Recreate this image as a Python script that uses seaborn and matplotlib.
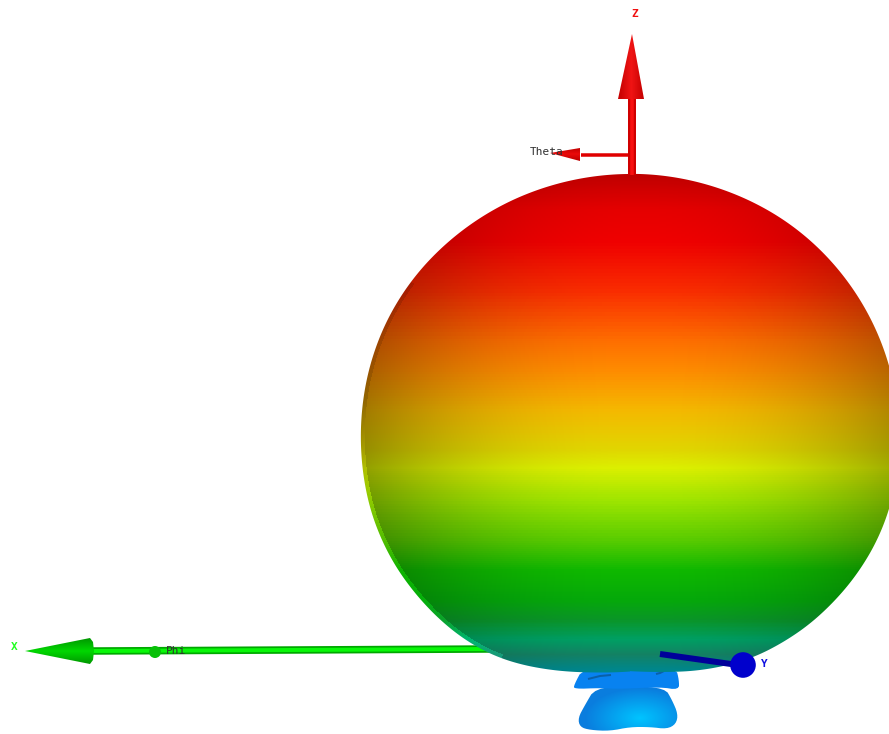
#!/usr/bin/env python3
# -*- coding: utf-8 -*-
"""3D radiation pattern view, drawn in pixel coordinates of the original"""

import numpy as np
import matplotlib
matplotlib.use("Agg")
import matplotlib.pyplot as plt
from matplotlib.patches import Polygon
import pandas as pd
import seaborn as sns

# main lobe, radius per angle from +Z (degrees)
left_angle = [0, 7, 14, 22, 30, 38, 48, 59, 72, 90, 108, 113, 120, 126, 133, 141, 147, 154, 163, 180]
left_radius = [261, 261, 261, 262, 263, 264, 266, 268, 269, 269, 270, 270, 268, 267, 265, 263, 261, 255, 245, 235]
right_angle = [0, 21, 33, 42, 52, 63, 72, 90, 107, 115, 121, 130, 137, 144, 150, 157, 169, 180]
right_radius = [261, 262, 264, 265, 266, 267, 268, 269, 270, 268, 266, 263, 260, 258, 254, 251, 240, 235]

# colour of the pattern by picture row, along the middle of the lobe
band_rows = [174, 190, 210, 240, 290, 340, 370, 410, 450, 468, 500, 540, 570, 600, 620, 640, 655, 670]
band_colours = ["#be0000", "#d20000", "#e60000", "#f00000", "#fa2d00", "#ff6e00",
                "#ff8c00", "#f5b900", "#e1d700", "#dcf000", "#a0e600", "#5acd00",
                "#0fb900", "#05aa0a", "#0a9628", "#00a064", "#148264", "#00878c"]

# side lobes under the main lobe
upper_lobe_x = [583, 574, 574, 600, 620, 660, 679, 679, 676, 630]
upper_lobe_y = [668, 685, 689, 688, 689, 687, 690, 680, 668, 666]
lower_lobe_x = [595, 585, 578, 580, 590, 610, 630, 650, 667, 676, 678, 672, 665, 630]
lower_lobe_y = [688, 705, 718, 727, 730, 731, 727, 727, 729, 724, 714, 700, 688, 686]
streak_x = [588, 600, 611]
streak_y = [679, 676, 675]
streak2_x = [656, 660, 664]
streak2_y = [674, 673, 671]

# axes
x_shaft_x = [92, 490]
x_shaft_y = [651, 649]
x_head_x = [25, 90, 93, 94, 93, 90]
x_head_y = [651, 638, 642, 651, 660, 664]
z_shaft_x = [631.5, 631.5]
z_shaft_y = [98, 175]
z_head_x = [632, 618, 644]
z_head_y = [34, 99, 99]
theta_shaft_x = [581, 628]
theta_shaft_y = [155, 155]
theta_head_x = [550, 580, 580]
theta_head_y = [153, 148, 161]
y_shaft_x = [660, 738]
y_shaft_y = [654, 665]
ball_x = [155, 743]
ball_y = [652, 665]
ball_size = [75, 340]
ball_colour = ["#08c008", "#0000cc"]

labels = ["X", "Phi", "Z", "Theta", "Y"]
label_x = [14, 166, 635, 530, 764]
label_y = [647, 651, 14, 152, 664]
label_colours = ["#20ff20", "#303030", "#f01010", "#303030", "#1010e0"]

WIDTH, HEIGHT = 889, 734

sns.set_theme(style="white")
fig = plt.figure(figsize=(WIDTH / 100, HEIGHT / 100), dpi=100)
ax = fig.add_axes([0, 0, 1, 1])
order = [1]


def ax_order():
    order[0] += 1
    return order[0]


def smooth(xs, ys, n=2):
    # corner cutting, closed shape
    p = np.column_stack([xs, ys]).astype(float)
    for _ in range(n):
        q = np.roll(p, -1, axis=0)
        p = np.column_stack([0.75 * p + 0.25 * q, 0.25 * p + 0.75 * q]).reshape(-1, 2)
    return p


def paint(rgb, x0, x1, y0, y1, outline):
    # rgb image clipped to the shape
    im = ax.imshow(np.clip(rgb, 0, 1), extent=(x0, x1, y1, y0), interpolation="bilinear",
                   aspect="auto", zorder=ax_order())
    clip = Polygon(outline, closed=True, transform=ax.transData, fc="none", ec="none")
    ax.add_patch(clip)
    im.set_clip_path(clip)


def line(xs, ys, colour, px):
    sns.lineplot(data=pd.DataFrame({"x": xs, "y": ys}), x="x", y="y", sort=False,
                 estimator=None, color=colour, linewidth=px * 0.72, ax=ax,
                 solid_capstyle="butt", zorder=ax_order())


def grid(x0, x1, y0, y1):
    return np.meshgrid(np.arange(x0, x1) + 0.5, np.arange(y0, y1) + 0.5)


def across(xs, ys, dark, bright, horizontal=True):
    # head shading: bright along the middle, dark on the sides
    x0, x1, y0, y1 = int(min(xs)), int(max(xs)) + 1, int(min(ys)), int(max(ys)) + 1
    gx, gy = grid(x0, x1, y0, y1)
    if horizontal:
        t = np.abs(gy - np.mean(ys)) / (max(ys) - min(ys)) * 2
    else:
        t = np.abs(gx - np.mean(xs)) / (max(xs) - min(xs)) * 2
    t = np.clip(t, 0, 1)[..., None]
    rgb = np.array(bright) * (1 - t) + np.array(dark) * t
    paint(rgb / 255, x0, x1, y0, y1, np.column_stack([xs, ys]))


# side lobes
gx, gy = grid(560, 690, 660, 734)
d = np.sqrt(((gx - 640) / 55) ** 2 + ((gy - 718) / 30) ** 2)
t = np.clip(d, 0, 1)[..., None]
lobe_rgb = (np.array([0, 196, 255]) * (1 - t) + np.array([10, 125, 222]) * t) / 255
paint(lobe_rgb, 560, 690, 660, 734, smooth(lower_lobe_x, lower_lobe_y))
upper_rgb = np.ones_like(lobe_rgb) * (np.array([8, 130, 240]) / 255)
paint(upper_rgb, 560, 690, 660, 734, smooth(upper_lobe_x, upper_lobe_y))
line(streak_x, streak_y, "#0a60a8", 2)
line(streak2_x, streak2_y, "#0a60a8", 2)

# X axis goes behind the main lobe
line(x_shaft_x, x_shaft_y, "#00a800", 7.5)
line(x_shaft_x, x_shaft_y, "#08f808", 4)
across(x_head_x, x_head_y, (0, 150, 0), (0, 215, 0))

# main lobe
cx, cy = 630, 435
deg = np.arange(0, 180.5, 0.5)
ang = np.radians(deg)
rl = np.interp(deg, left_angle, left_radius)
rr = np.interp(deg, right_angle, right_radius)
kernel = np.ones(41) / 41
rl = np.convolve(np.pad(rl, 20, mode="edge"), kernel, mode="valid")
rr = np.convolve(np.pad(rr, 20, mode="edge"), kernel, mode="valid")
outline = np.vstack([
    np.column_stack([cx - rl * np.sin(ang), cy - rl * np.cos(ang)]),
    np.column_stack([cx + rr * np.sin(ang), cy - rr * np.cos(ang)])[::-1],
])
cmap = sns.blend_palette(band_colours, n_colors=len(band_colours), as_cmap=True)
gx, gy = grid(350, WIDTH, 165, 680)
# stops are not evenly spaced in rows, so each row goes between its two stops
base = np.interp(gy, band_rows, np.linspace(0, 1, len(band_rows)))
rgb = np.array(cmap(base))[..., :3]
# darker towards the rim, middle column keeps the band colour
dist = np.sqrt(((gx - 640) / 270) ** 2 + ((gy - 450) / 620) ** 2)
mid = np.abs(gy - 450) / 620
shade = (1 - 0.32 * dist ** 2.2) / (1 - 0.32 * mid ** 2.2)
# thin rim on the left side of the lobe, dark above the middle and light below
pix_ang = np.degrees(np.arctan2(cx - gx, cy - gy))
pix_r = np.hypot(gx - cx, gy - cy)
rim = (pix_ang > 55) & (pix_ang < 150) & (pix_r > np.interp(pix_ang, deg, rl) - 4)
rim_gain = np.interp(gy, [400, 490], [0.88, 1.3])
shade = np.where(rim, shade * rim_gain, shade)
paint(rgb * shade[..., None], 350, WIDTH, 165, 680, outline)

# Z axis and Theta arrow on top of it
line(z_shaft_x, z_shaft_y, "#d00000", 8)
line(z_shaft_x, z_shaft_y, "#f81010", 3.5)
across(z_head_x, z_head_y, (195, 0, 0), (240, 20, 20), horizontal=False)
line(theta_shaft_x, theta_shaft_y, "#e00000", 3.5)
across(theta_head_x, theta_head_y, (190, 0, 0), (235, 10, 10))

# Y axis and ball markers
line(y_shaft_x, y_shaft_y, "#00009a", 6)
sns.scatterplot(data=pd.DataFrame({"x": ball_x, "y": ball_y, "c": ball_colour, "s": ball_size}),
                x="x", y="y", hue="c", palette=dict(zip(ball_colour, ball_colour)),
                size="s", sizes=(min(ball_size), max(ball_size)), legend=False,
                linewidth=0, ax=ax, zorder=ax_order())

for txt, lx, ly, col in zip(labels, label_x, label_y, label_colours):
    ax.text(lx, ly, txt, color=col, fontsize=8, family="DejaVu Sans Mono",
            weight="normal" if txt in ("Phi", "Theta") else "bold",
            ha="left" if txt in ("Phi", "Theta") else "center", va="center", zorder=ax_order())

ax.set_xlim(0, WIDTH)
ax.set_ylim(HEIGHT, 0)
ax.axis("off")

fig.savefig("out.png", dpi=100, facecolor="white")
